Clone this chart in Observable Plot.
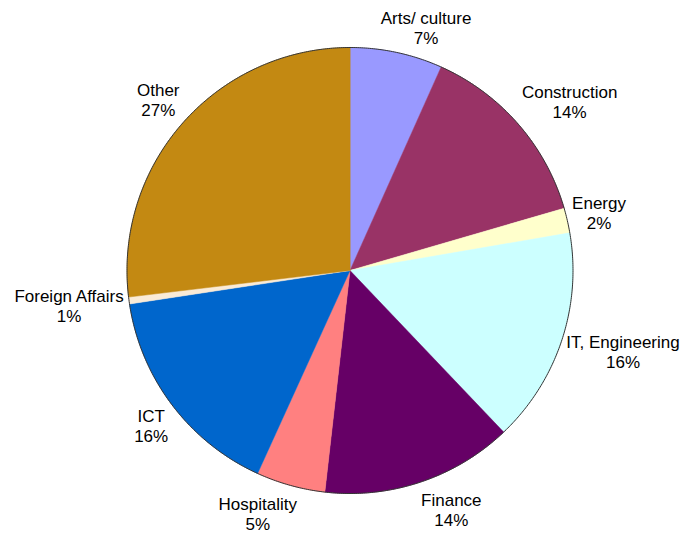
<!DOCTYPE html>
<html>
<head>
<meta charset="utf-8">
<script src="https://cdn.jsdelivr.net/npm/d3@7"></script>
<script src="https://cdn.jsdelivr.net/npm/@observablehq/plot@0.6"></script>
<style>
  html, body { margin: 0; padding: 0; background: #fff; }
  #chart svg { display: block; }
</style>
</head>
<body>
<div id="chart"></div>
<script>
const categories = ["Arts/ culture", "Construction", "Energy", "IT, Engineering", "Finance", "Hospitality", "ICT", "Foreign Affairs", "Other"];
const shares = [6.7, 13.8, 1.8, 15.6, 13.9, 5.0, 15.8, 0.5, 26.9];
const pctLabels = ["7%", "14%", "2%", "16%", "14%", "5%", "16%", "1%", "27%"];
const colors = ["#9999FF", "#993366", "#FFFFCC", "#CCFFFF", "#660066", "#FF8080", "#0066CC", "#FAEBD7", "#C38912"];

const W = 683, H = 534;
const cx = 349.5, cy = 270, R = 223; // pixel layout of the pie
const xDomain = [-cx / R, (W - cx) / R];
const yDomain = [-(H - cy) / R, cy / R];

const total = d3.sum(shares);
let acc = 0;
const slices = categories.map((c, i) => {
  const a0 = acc / total * 2 * Math.PI;
  acc += shares[i];
  const a1 = acc / total * 2 * Math.PI;
  return {category: c, a0, a1, mid: (a0 + a1) / 2, label: c + "\n" + pctLabels[i]};
});

// polygon points for each slice
const slicePts = [];
for (const s of slices) {
  slicePts.push({category: s.category, x: 0, y: 0});
  const n = Math.max(2, Math.ceil((s.a1 - s.a0) / (Math.PI / 360)));
  for (let k = 0; k <= n; k++) {
    const a = s.a0 + (s.a1 - s.a0) * k / n;
    slicePts.push({category: s.category, x: Math.sin(a), y: Math.cos(a)});
  }
}
const circle = d3.range(0, 721).map(k => {
  const a = k / 720 * 2 * Math.PI;
  return {x: Math.sin(a), y: Math.cos(a)};
});

// label placement (Excel-like outside labels)
const fontSize = 17, lineH = 20;
const ctx = document.createElement("canvas").getContext("2d");
ctx.font = `${fontSize}px "Liberation Sans"`;
const clamp = v => Math.max(-1, Math.min(1, v));
const labelData = slices.map(s => {
  const lines = s.label.split("\n");
  const w = d3.max(lines, l => ctx.measureText(l).width) / R;
  const h = (lines.length * lineH) / R;
  const r = 1.022;
  const sn = Math.sin(s.mid), cs = Math.cos(s.mid);
  const push = cs < 0 ? 5 * Math.pow(-cs, 8) : 0;
  return {
    label: s.label,
    x: r * sn + (w / 2) * clamp(3 * sn),
    y: r * cs + (h / 2) * clamp(1.5 * cs) - push / R
  };
});

const chart = Plot.plot({
  width: W,
  height: H,
  margin: 0,
  x: {domain: xDomain, axis: null},
  y: {domain: yDomain, axis: null},
  color: {domain: categories, range: colors},
  style: {fontFamily: '"Liberation Sans", Arial, sans-serif'},
  marks: [
    Plot.line(slicePts, {x: "x", y: "y", z: "category", fill: "category", stroke: "category", strokeWidth: 0.5, curve: "linear-closed"}),
    Plot.line(circle, {x: "x", y: "y", stroke: "#333", strokeWidth: 1}),
    Plot.text(labelData, {x: "x", y: "y", text: "label", textAnchor: "middle", lineAnchor: "middle", lineHeight: lineH / fontSize, fontSize: fontSize, fill: "#000"})
  ]
});
document.getElementById("chart").appendChild(chart);
</script>
</body>
</html>
